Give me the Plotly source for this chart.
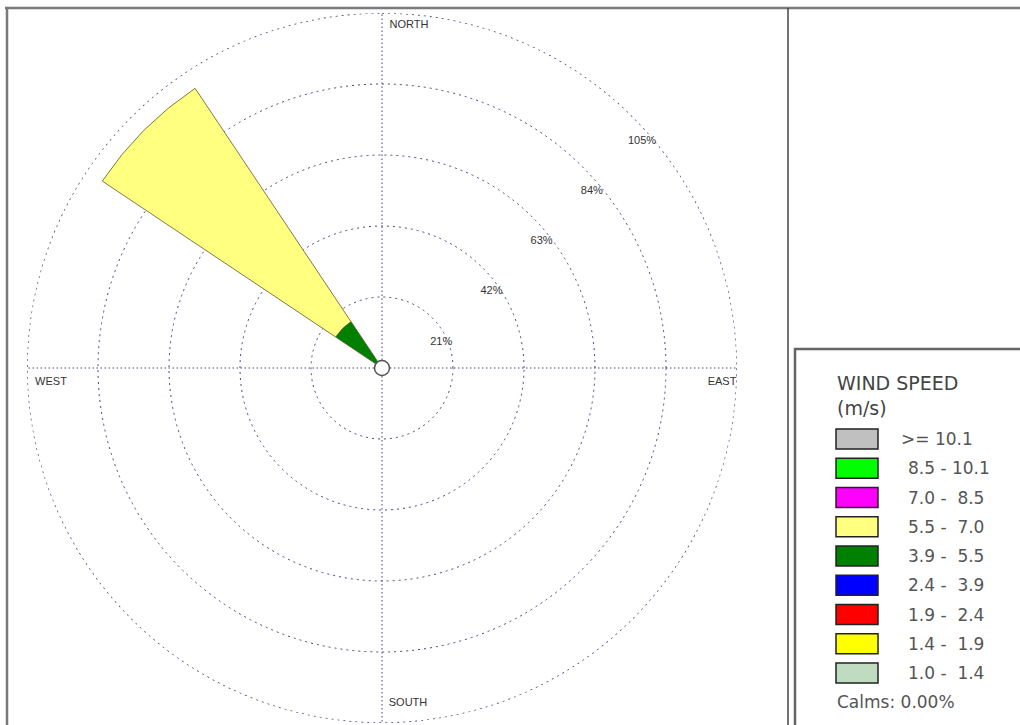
import math
import plotly.graph_objects as go

# ---------------- data ----------------
directions = ["N", "NNE", "NE", "ENE", "E", "ESE", "SE", "SSE",
              "S", "SSW", "SW", "WSW", "W", "WNW", "NW", "NNW"]
direction_deg = [i * 22.5 for i in range(16)]

# speed bins, from lowest (inner) to highest (outer)
speed_bins = ["1.0 -  1.4", "1.4 -  1.9", "1.9 -  2.4", "2.4 -  3.9", "3.9 -  5.5",
              "5.5 -  7.0", "7.0 -  8.5", "8.5 - 10.1", ">= 10.1"]
bin_colors = ["#c0dcc0", "#ffff00", "#ff0000", "#0000ff", "#008000",
              "#ffff80", "#ff00ff", "#00ff00", "#c0c0c0"]

# frequency (%) per bin per direction (only NW has wind)
freq = {b: [0.0] * 16 for b in speed_bins}
freq["3.9 -  5.5"][directions.index("NW")] = 16.5
freq["5.5 -  7.0"][directions.index("NW")] = 83.0

ring_values = [21, 42, 63, 84, 105]
ring_labels = ["21%", "42%", "63%", "84%", "105%"]
compass_labels = ["NORTH", "EAST", "SOUTH", "WEST"]
compass_deg = [0, 90, 180, 270]
legend_title = "WIND SPEED<br>(m/s)"
calms_text = "Calms: 0.00%"

# ---------------- geometry ----------------
W, H = 1020, 725
CX, CY, RPX = 382, 368, 355
RMAX = 105.0
scale = RPX / RMAX
grid_col = "#454588"


def polar_at(r_val, bearing, dx, dy_down):
    """position (r, theta) of a point offset in pixels from a polar point"""
    rp = r_val * scale
    x = rp * math.sin(math.radians(bearing)) + dx
    y = rp * math.cos(math.radians(bearing)) - dy_down
    return math.hypot(x, y) / scale, math.degrees(math.atan2(x, y))


fig = go.Figure()

for b, c in zip(speed_bins, bin_colors):
    rs = [v for v in freq[b] if v > 0]
    ths = [d for v, d in zip(freq[b], direction_deg) if v > 0]
    if not rs:
        continue
    fig.add_trace(go.Barpolar(
        r=rs, theta=ths, width=[22.5] * len(rs), name=b,
        marker=dict(color=c, line=dict(color="#5a5a2a", width=0.8)),
        showlegend=False, hoverinfo="skip"))

# outer ring (edge of the plotting range)
circ_t = [i * 1 for i in range(361)]
fig.add_trace(go.Scatterpolar(
    r=[ring_values[-1]] * len(circ_t), theta=circ_t, mode="lines", cliponaxis=False,
    line=dict(color=grid_col, width=1.4, dash="2px,4px"),
    showlegend=False, hoverinfo="skip"))

# ring labels (placed just below the ring at 45 degrees)
lab = [polar_at(v, 45, 9, 24) for v in ring_values]
fig.add_trace(go.Scatterpolar(
    r=[p[0] for p in lab], theta=[p[1] for p in lab], mode="text", text=ring_labels,
    textfont=dict(family="Liberation Sans, Arial", size=11, color="#333333"),
    showlegend=False, hoverinfo="skip"))

# compass labels
offsets = [(27, 12), (-15, 14), (26, -20), (24, 14)]
for labt, d, (dx, dy) in zip(compass_labels, compass_deg, offsets):
    r_, t_ = polar_at(RMAX, d, dx, dy)
    fig.add_trace(go.Scatterpolar(
        r=[r_], theta=[t_], mode="text", text=[labt], textposition="middle center",
        textfont=dict(family="Liberation Sans Narrow, Liberation Sans, Arial", size=11, color="#333333"),
        showlegend=False, hoverinfo="skip"))

# calm circle at centre
fig.add_trace(go.Scatterpolar(
    r=[0], theta=[0], mode="markers",
    marker=dict(size=15, color="white", line=dict(color="#555555", width=1.5)),
    showlegend=False, hoverinfo="skip"))

fig.update_layout(
    width=W, height=H,
    margin=dict(l=0, r=0, t=0, b=0),
    paper_bgcolor="white",
    polar=dict(
        domain=dict(x=[(CX - RPX) / W, (CX + RPX) / W],
                    y=[(H - CY - RPX) / H, (H - CY + RPX) / H]),
        bgcolor="white",
        barmode="stack",
        radialaxis=dict(range=[0, RMAX], tickvals=ring_values[:-1], showticklabels=False,
                        ticks="", showline=False, showgrid=True, gridcolor=grid_col,
                        griddash="2px,4px", gridwidth=1.4),
        angularaxis=dict(rotation=90, direction="clockwise", tickvals=compass_deg,
                         showticklabels=False, ticks="", showline=False,
                         showgrid=True, gridcolor=grid_col, griddash="1.5px,2.5px", gridwidth=1.4),
    ),
)


def px(x):
    return x / W


def py(y):
    return 1 - y / H


shapes = []
# outer frame
shapes.append(dict(type="line", xref="paper", yref="paper", x0=px(5), x1=px(1020), y0=py(8), y1=py(8),
                   line=dict(color="#7a7a7a", width=2.5)))
shapes.append(dict(type="line", xref="paper", yref="paper", x0=px(7), x1=px(7), y0=py(8), y1=py(725),
                   line=dict(color="#7a7a7a", width=2.5)))
shapes.append(dict(type="line", xref="paper", yref="paper", x0=px(788), x1=px(788), y0=py(8), y1=py(725),
                   line=dict(color="#444444", width=1.5)))
# legend box
shapes.append(dict(type="rect", xref="paper", yref="paper", x0=px(795), x1=px(1030), y0=py(349), y1=py(735),
                   line=dict(color="#666666", width=2.5), fillcolor="white"))

annotations = []
annotations.append(dict(xref="paper", yref="paper", x=px(835), y=py(395), xanchor="left", yanchor="middle",
                        text=legend_title, showarrow=False, align="left",
                        font=dict(family="DejaVu Sans", size=19, color="#444444")))

row0, pitch = 439, 29.25
for i, (b, c) in enumerate(zip(speed_bins[::-1], bin_colors[::-1])):
    yc = row0 + i * pitch
    shapes.append(dict(type="rect", xref="paper", yref="paper", x0=px(836), x1=px(878),
                       y0=py(yc - 10), y1=py(yc + 10),
                       line=dict(color="#222222", width=1.5), fillcolor=c))
    xl = 899 if b.startswith(">=") else 906
    annotations.append(dict(xref="paper", yref="paper", x=px(xl), y=py(yc), xanchor="left", yanchor="middle",
                            text=b.replace(" ", "&nbsp;"), showarrow=False,
                            font=dict(family="DejaVu Sans", size=17, color="#555555")))

annotations.append(dict(xref="paper", yref="paper", x=px(835), y=py(702), xanchor="left", yanchor="middle",
                        text=calms_text, showarrow=False,
                        font=dict(family="DejaVu Sans", size=17, color="#555555")))

fig.update_layout(shapes=shapes, annotations=annotations)
fig.write_html("out.html")
